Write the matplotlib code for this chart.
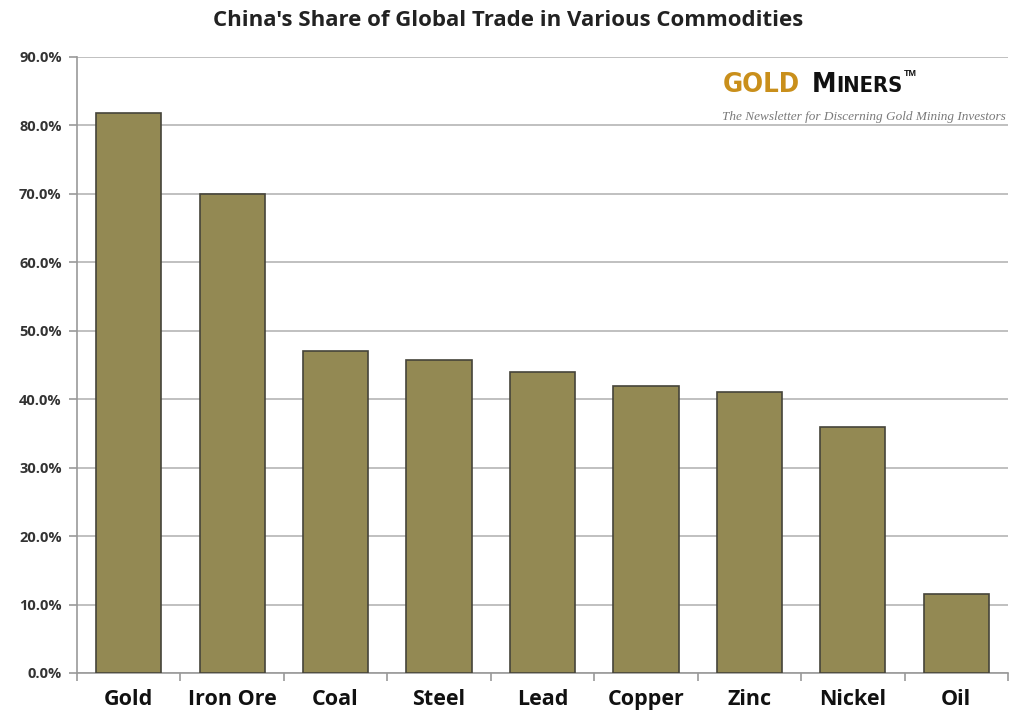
import matplotlib
matplotlib.use("Agg")
import matplotlib.pyplot as plt
import matplotlib.ticker as mticker
from matplotlib import font_manager as fm
import numpy as np

# data
commodities = ["Gold", "Iron Ore", "Coal", "Steel", "Lead", "Copper", "Zinc", "Nickel", "Oil"]
share_pct = [81.8, 70.0, 47.0, 45.7, 44.0, 42.0, 41.1, 36.0, 11.5]
y_ticks = [0, 10, 20, 30, 40, 50, 60, 70, 80, 90]

plt.rcParams['font.family'] = ['Open Sans', 'DejaVu Sans']

W, H = 1017, 719
fig = plt.figure(figsize=(W / 100, H / 100), dpi=100)
ax = fig.add_axes([77 / W, 46 / H, 931 / W, 616 / H])

x = np.arange(len(commodities))
ax.bar(x, share_pct, width=0.63, color="#938953", edgecolor="#45443a", linewidth=1.2, zorder=3)

ax.set_xlim(-0.5, len(commodities) - 0.5)
ax.set_ylim(0, 90)
ax.set_yticks(y_ticks)
ax.yaxis.set_major_formatter(mticker.FuncFormatter(lambda v, p: f"{v:.1f}%"))
for lbl in ax.get_yticklabels():
    lbl.set_fontweight("bold")
    lbl.set_fontsize(10.5)
    lbl.set_color("#333333")

# category labels centred, tick marks on category boundaries
ax.set_xticks(x)
ax.set_xticklabels(commodities, fontsize=15.5, fontweight="bold", color="#111111")
ax.tick_params(axis="x", length=0, pad=11.5)
ax.set_xticks(np.arange(len(commodities) + 1) - 0.5, minor=True)
ax.tick_params(axis="x", which="minor", length=6, color="#999999", width=1.2)
ax.tick_params(axis="y", length=6, color="#999999", width=1.2, pad=5)

ax.grid(axis="y", color="#bbbbbb", linewidth=1.3, zorder=0)
for s in ["top", "right"]:
    ax.spines[s].set_visible(False)
for s in ["left", "bottom"]:
    ax.spines[s].set_color("#999999")
    ax.spines[s].set_linewidth(1.2)

fig.text(0.5, 0.971, "China's Share of Global Trade in Various Commodities",
         ha="center", va="center", fontsize=16, fontweight="bold", color="#222222")

# ── logo ──────────────────────────────────────────────────────────────────
# look for a narrow bold face; otherwise plain bold sans
narrow = None
for f in fm.fontManager.ttflist:
    name = f.name.lower()
    is_bold = str(f.weight) in ("bold", "700", "800", "900", "heavy", "black")
    is_narrow = ("narrow" in name or "condensed" in name
                 or str(f.stretch) in ("condensed", "semi-condensed", "extra-condensed"))
    if is_bold and is_narrow and f.style == "normal":
        narrow = f.fname
        break
if narrow:
    logo_fp = dict(fontproperties=fm.FontProperties(fname=narrow))
    gold_w = 77
else:
    logo_fp = dict(family=["Liberation Sans", "DejaVu Sans"], fontweight="bold")
    gold_w = 84

renderer = fig.canvas.get_renderer()


def px_text(s, x_px, base_px, size, **kw):
    t = fig.text(x_px / W, 1 - base_px / H, s, ha="left", va="baseline", **kw)
    t.set_fontsize(size)
    return t


def width_px(t):
    return t.get_window_extent(renderer).width


base = 92
gold = px_text("GOLD", 723, base, 20, color="#c98f1b", **logo_fp)
fs = 20 * gold_w / width_px(gold)
gold.set_fontsize(fs)

m_x = 723 + gold_w + 12
m = px_text("M", m_x, base, fs, color="#111111", **logo_fp)
m_end = m_x + width_px(m)
rest = px_text("INERS", m_end, base, fs * 0.8, color="#111111", **logo_fp)
rest_end = m_end + width_px(rest)
px_text("TM", rest_end + 1, 76, 6.5, color="#111111", family=["Liberation Sans", "DejaVu Sans"],
        fontweight="bold")

px_text("The Newsletter for Discerning Gold Mining Investors", 722, 120, 9.5,
        style="italic", color="#7a7a7a", family=["Liberation Serif", "DejaVu Serif"])

fig.savefig("out.png", dpi=100)
